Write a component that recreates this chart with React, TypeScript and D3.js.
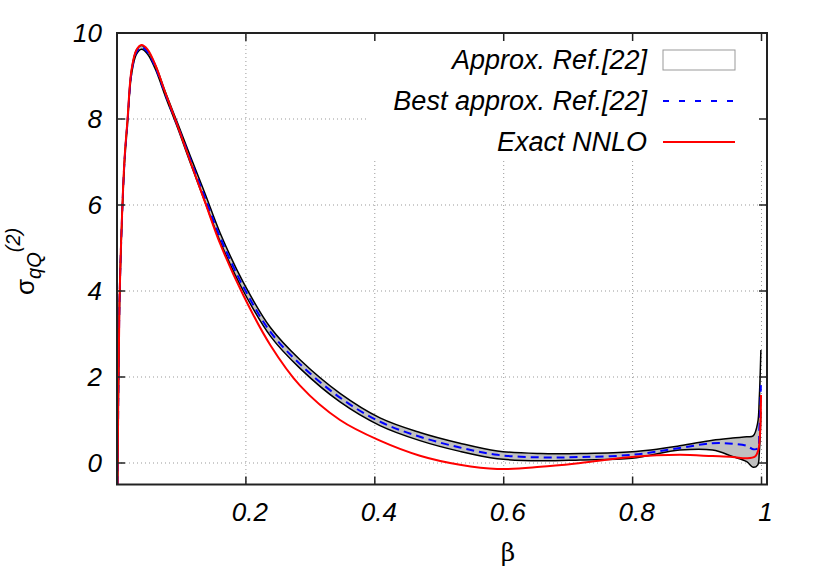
import * as d3 from "d3";

// beta grid used for the approximation band and its best estimate
const betaApprox = [0.0008, 0.0023, 0.0039, 0.007, 0.0116, 0.0163, 0.0225, 0.03, 0.038, 0.0473, 0.0597, 0.0752, 0.0938, 0.114, 0.137, 0.16, 0.196, 0.238, 0.284, 0.346, 0.408, 0.47, 0.532, 0.59, 0.657, 0.719, 0.799, 0.873, 0.924, 0.955, 0.977, 0.987, 0.994, 0.9965, 0.999];
const bestApprox = [-0.49, 1.9, 3.75, 5.38, 7.0, 7.93, 9.08, 9.55, 9.67, 9.56, 9.2, 8.57, 7.85, 7.05, 6.15, 5.25, 4.1, 3.05, 2.3, 1.52, 0.96, 0.61, 0.36, 0.19, 0.13, 0.14, 0.19, 0.35, 0.46, 0.45, 0.4, 0.32, 0.34, 0.77, 1.81];
const bandHigh = [-0.49, 1.95, 3.8, 5.43, 7.05, 7.98, 9.13, 9.6, 9.71, 9.6, 9.25, 8.62, 7.91, 7.13, 6.25, 5.35, 4.2, 3.15, 2.4, 1.62, 1.05, 0.71, 0.46, 0.28, 0.22, 0.22, 0.26, 0.4, 0.53, 0.58, 0.61, 0.63, 0.93, 1.5, 2.63];
const bandLow = [-0.49, 1.85, 3.7, 5.33, 6.95, 7.88, 9.03, 9.5, 9.62, 9.51, 9.15, 8.52, 7.8, 6.97, 6.05, 5.15, 4.0, 2.95, 2.2, 1.42, 0.87, 0.52, 0.27, 0.1, 0.05, 0.07, 0.11, 0.3, 0.3, 0.15, 0.03, -0.1, -0.05, 0.23, 1.2];

// exact NNLO result
const betaExact = [0.0008, 0.0023, 0.0039, 0.007, 0.0116, 0.0163, 0.0225, 0.03, 0.038, 0.0473, 0.0597, 0.0752, 0.0938, 0.114, 0.137, 0.16, 0.196, 0.238, 0.284, 0.346, 0.408, 0.47, 0.532, 0.59, 0.657, 0.719, 0.799, 0.873, 0.924, 0.955, 0.977, 0.99, 0.995, 0.998, 0.9992];
const exactNNLO = [-0.49, 1.93, 3.79, 5.42, 7.05, 7.98, 9.14, 9.6, 9.72, 9.62, 9.25, 8.6, 7.85, 7.0, 6.05, 5.1, 3.9, 2.74, 1.8, 1.0, 0.52, 0.17, -0.04, -0.14, -0.09, 0.0, 0.14, 0.19, 0.16, 0.14, 0.11, 0.15, 0.3, 0.77, 1.58];

const xTicks = [0.2, 0.4, 0.6, 0.8, 1];
const xTickLabels = ["0.2", "0.4", "0.6", "0.8", "1"];
const yTicks = [0, 2, 4, 6, 8, 10];
const yTickLabels = ["0", "2", "4", "6", "8", "10"];
const legendLabels = ["Approx. Ref.[22]", "Best approx. Ref.[22]", "Exact NNLO"];

const W = 817;
const H = 572;
const L = 117, R = 767, T = 33, B = 484.5;
const FONT = "'Liberation Sans', Arial, Helvetica, sans-serif";

export default function App() {
  const x = d3.scaleLinear().domain([0, 1.0085]).range([L, R]);
  const y = d3.scaleLinear().domain([-0.5, 10]).range([B, T]);

  const curve = d3.curveCatmullRom.alpha(0.5);
  const line = d3.line<[number, number]>()
    .x(d => x(d[0])).y(d => y(d[1]))
    .curve(curve);
  const area = d3.area<number>()
    .x((_, i) => x(betaApprox[i]))
    .y0((_, i) => y(bandLow[i]))
    .y1((_, i) => y(bandHigh[i]))
    .curve(curve);

  const hi = betaApprox.map((b, i) => [b, bandHigh[i]] as [number, number]);
  const lo = betaApprox.map((b, i) => [b, bandLow[i]] as [number, number]);
  const best = betaApprox.map((b, i) => [b, bestApprox[i]] as [number, number]);
  const exact = betaExact.map((b, i) => [b, exactNNLO[i]] as [number, number]);

  const legY = [60, 101, 142];
  const legTextX = 647;
  const keyX0 = 663, keyX1 = 735;
  const tick = 8;

  return (
    <svg width={W} height={H} style={{ position: "absolute", left: 0, top: 0, background: "#fff" }}>
      <defs>
        <clipPath id="plot">
          <rect x={L} y={T} width={R - L} height={B - T} />
        </clipPath>
      </defs>

      {/* grid */}
      <g stroke="#999" strokeWidth={1} strokeDasharray="1,3">
        {xTicks.map(t => (
          <line key={"gx" + t} x1={x(t)} x2={x(t)} y1={T} y2={B} />
        ))}
        {yTicks.filter(t => t < 10).map(t => (
          <line key={"gy" + t} x1={L} x2={R} y1={y(t)} y2={y(t)} />
        ))}
      </g>
      {/* key background */}
      <rect x={368} y={T + 1} width={R - 369} height={127} fill="#fff" />

      {/* curves */}
      <g clipPath="url(#plot)">
        <path d={area(betaApprox) || ""} fill="#c0c0c0" />
        <path d={line(hi) || ""} fill="none" stroke="#000" strokeWidth={1.5} />
        <path d={line(lo) || ""} fill="none" stroke="#000" strokeWidth={1.5} />
        <path d={line(best) || ""} fill="none" stroke="#0000ff" strokeWidth={2} strokeDasharray="8,5" />
        <path d={line(exact) || ""} fill="none" stroke="#ff0000" strokeWidth={2} />
      </g>

      {/* border and ticks */}
      <rect x={L} y={T} width={R - L} height={B - T} fill="none" stroke="#222" strokeWidth={2} />
      <g stroke="#222" strokeWidth={1.5}>
        {xTicks.map(t => (
          <g key={"tx" + t}>
            <line x1={x(t)} x2={x(t)} y1={B} y2={B - tick} />
            <line x1={x(t)} x2={x(t)} y1={T} y2={T + tick} />
          </g>
        ))}
        {yTicks.map(t => (
          <g key={"ty" + t}>
            <line x1={L} x2={L + tick} y1={y(t)} y2={y(t)} />
            <line x1={R} x2={R - tick} y1={y(t)} y2={y(t)} />
          </g>
        ))}
      </g>

      {/* tick labels */}
      <g fontFamily={FONT} fontStyle="italic" fontSize={26} fill="#000">
        {xTicks.map((t, i) => (
          <text key={"lx" + t} x={x(t) + 4} y={521} textAnchor="middle">{xTickLabels[i]}</text>
        ))}
        {yTicks.map((t, i) => (
          <text key={"ly" + t} x={102} y={y(t) + 9} textAnchor="end">{yTickLabels[i]}</text>
        ))}
      </g>

      {/* axis titles */}
      <text x={508} y={561} fontFamily="'DejaVu Serif', serif" fontSize={25} textAnchor="middle">β</text>
      <text transform="translate(34,295) rotate(-90)" fontFamily={FONT} fontSize={26}>
        <tspan>σ</tspan>
        <tspan fontStyle="italic" fontSize={20} dy={7}>qQ</tspan>
        <tspan fontStyle="italic" fontSize={20} dy={-21}>(2)</tspan>
      </text>

      {/* legend */}
      <g fontFamily={FONT} fontStyle="italic" fontSize={27}>
        {legendLabels.map((s, i) => (
          <text key={s} x={legTextX} y={legY[i] + 9} textAnchor="end">{s}</text>
        ))}
      </g>
      <rect x={keyX0} y={legY[0] - 10} width={keyX1 - keyX0} height={20} fill="#fff" stroke="#999" strokeWidth={1} />
      <line x1={keyX0} x2={keyX1} y1={legY[1]} y2={legY[1]} stroke="#0000ff" strokeWidth={2} strokeDasharray="6,10" />
      <line x1={keyX0} x2={keyX1} y1={legY[2]} y2={legY[2]} stroke="#ff0000" strokeWidth={2} />
    </svg>
  );
}
